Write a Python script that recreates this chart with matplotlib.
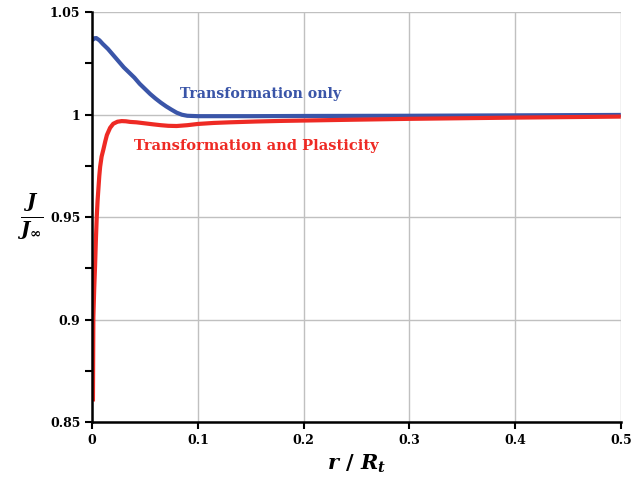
import numpy as np
import matplotlib
matplotlib.use('Agg')
import matplotlib.pyplot as plt
from matplotlib.ticker import MultipleLocator, FixedLocator

plt.rcParams['font.family'] = 'DejaVu Serif'
plt.rcParams['font.weight'] = 'bold'
plt.rcParams['mathtext.fontset'] = 'custom'
plt.rcParams['mathtext.it'] = 'DejaVu Serif:italic:bold'
plt.rcParams['mathtext.rm'] = 'DejaVu Serif:bold'

# Transformation only (blue)
x_trans = [0.0, 0.002, 0.004, 0.007, 0.01, 0.015, 0.02, 0.025, 0.03, 0.035,
           0.04, 0.045, 0.05, 0.055, 0.06, 0.065, 0.07, 0.075, 0.08, 0.085,
           0.09, 0.1, 0.12, 0.15, 0.2, 0.3, 0.4, 0.5]
y_trans = [1.0362, 1.0372, 1.0373, 1.0362, 1.0345, 1.032, 1.029, 1.026, 1.023,
           1.0205, 1.018, 1.015, 1.0125, 1.010, 1.0078, 1.0058, 1.004, 1.0024,
           1.0009, 0.9999, 0.9994, 0.9992, 0.9992, 0.9992, 0.9993, 0.9994,
           0.9996, 0.9998]

# Transformation and plasticity (red)
x_plast = [0.0008, 0.0012, 0.002, 0.0028, 0.0036, 0.0044, 0.0052, 0.006,
           0.0068, 0.0076, 0.009, 0.0107, 0.0125, 0.014, 0.017, 0.02, 0.024,
           0.028, 0.032, 0.036, 0.042, 0.05, 0.058, 0.065, 0.072, 0.08, 0.09,
           0.1, 0.115, 0.13, 0.155, 0.18, 0.25, 0.3, 0.4, 0.5]
y_plast = [0.860, 0.901, 0.915, 0.926, 0.939, 0.950, 0.958, 0.964, 0.970,
           0.9745, 0.9795, 0.983, 0.987, 0.9900, 0.9935, 0.9955, 0.9965,
           0.9968, 0.9967, 0.9964, 0.9962, 0.9957, 0.9952, 0.9948, 0.9945,
           0.9944, 0.9948, 0.9954, 0.9959, 0.9962, 0.9966, 0.9969, 0.9975,
           0.9979, 0.9985, 0.999]

x_ticks = [0, 0.1, 0.2, 0.3, 0.4, 0.5]
x_ticklabels = ['0', '0.1', '0.2', '0.3', '0.4', '0.5']
y_ticks = [0.85, 0.9, 0.95, 1.0, 1.05]
y_ticklabels = ['0.85', '0.9', '0.95', '1', '1.05']

fig = plt.figure(figsize=(6.44, 4.82), dpi=100)
ax = fig.add_axes([0.143, 0.1245, 0.821, 0.8505])

ax.plot(x_trans, y_trans, color='#3a55a8', linewidth=3.0, solid_capstyle='butt',
        solid_joinstyle='round')
ax.plot(x_plast, y_plast, color='#ee2a24', linewidth=3.0, solid_capstyle='butt',
        solid_joinstyle='round')

ax.set_xlim(0, 0.5)
ax.set_ylim(0.85, 1.05)
ax.xaxis.set_major_locator(FixedLocator(x_ticks))
ax.set_xticklabels(x_ticklabels)
ax.yaxis.set_major_locator(FixedLocator(y_ticks))
ax.set_yticklabels(y_ticklabels)
ax.yaxis.set_minor_locator(MultipleLocator(0.025))

ax.grid(True, which='major', color='#c0c0c0', linewidth=1.0)
ax.set_axisbelow(True)
for s in ['top', 'right']:
    ax.spines[s].set_visible(False)
for s in ['left', 'bottom']:
    ax.spines[s].set_linewidth(1.8)
ax.tick_params(which='both', direction='out', width=1.5, labelsize=9)
ax.tick_params(which='major', length=5)
ax.tick_params(which='minor', length=5)
for lbl in ax.get_xticklabels() + ax.get_yticklabels():
    lbl.set_fontweight('bold')

ax.set_xlabel(r'$r\ /\ R_t$', fontsize=15)
ax.set_ylabel(r'$\frac{J}{J_\infty}$', fontsize=20, rotation=0, labelpad=14, va='center')

ax.text(0.083, 1.008, 'Transformation only', color='#3a55a8', fontsize=10.2,
        fontweight='bold')
ax.text(0.04, 0.9825, 'Transformation and Plasticity', color='#ee2a24', fontsize=10.5,
        fontweight='bold')

fig.savefig('out.png', dpi=100)
